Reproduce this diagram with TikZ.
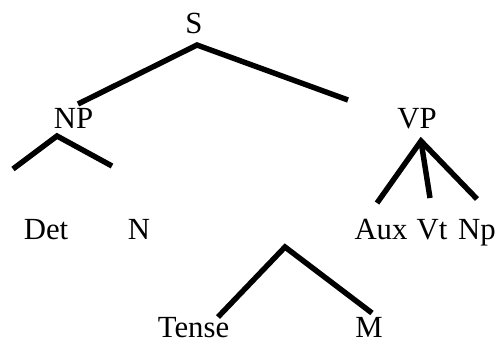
\documentclass[tikz,border=0pt]{standalone}
\usepackage{fontspec}
\setmainfont{Liberation Serif}
\usetikzlibrary{positioning}

\tikzset{
  branch/.style={line width=3.1pt},
  cat/.style={anchor=base, inner sep=0pt, font=\fontsize{17.5}{20}\selectfont}
}

\begin{document}
\begin{tikzpicture}[x=0.02cm, y=-0.02cm]
\useasboundingbox (0,0) rectangle (500,343);

% labels
\node[cat] (S) at (194,33) {S};
\node[cat] (NP) at (73.5,128) {NP};
\node[cat] (VP) at (417,128) {VP};
\node[cat] (Det) at (46,239) {Det};
\node[cat] (N) at (139,239) {N};
\node[cat] (Aux) at (381,239) {Aux};
\node[cat] (Vt) at (432,239) {Vt};
\node[cat] (Np) at (477,239) {Np};
\node[cat] (Tense) at (193.5,337) {Tense};
\node[cat] (M) at (369,337) {M};

% branch ends
\coordinate (S-foot) at (197,45);
\coordinate (NP-top) at (78,104);
\coordinate (VP-top) at (348,100);
\coordinate (NP-foot) at (57,136);
\coordinate (Det-top) at (13,169);
\coordinate (N-top) at (112,166);
\coordinate (VP-foot) at (421,141);
\coordinate (Aux-top) at (377,203);
\coordinate (Vt-top) at (430,198);
\coordinate (Np-top) at (477,199);
\coordinate (T-apex) at (285,247);
\coordinate (Tense-top) at (218,317);
\coordinate (M-top) at (372,313);

\draw[branch] (NP-top) -- (S-foot) -- (VP-top);
\draw[branch] (Det-top) -- (NP-foot) -- (N-top);
\draw[branch] (Aux-top) -- (VP-foot) -- (Np-top);
\draw[branch] (VP-foot) -- (Vt-top);
\draw[branch] (Tense-top) -- (T-apex) -- (M-top);

\end{tikzpicture}
\end{document}
